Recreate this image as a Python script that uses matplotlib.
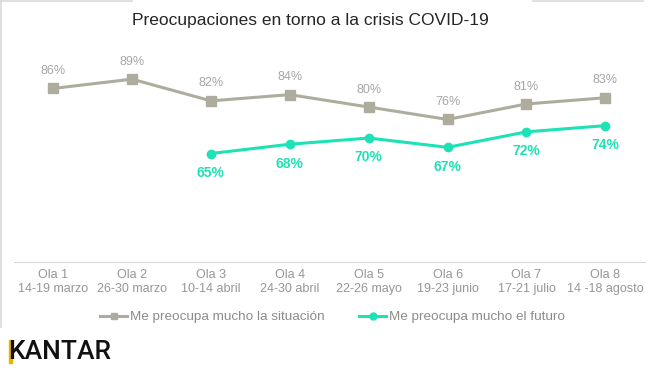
import numpy as np
import matplotlib.pyplot as plt
from matplotlib.lines import Line2D
from matplotlib.patches import Rectangle

plt.rcParams['font.family'] = ['Liberation Sans', 'DejaVu Sans']

olas = ['Ola 1', 'Ola 2', 'Ola 3', 'Ola 4', 'Ola 5', 'Ola 6', 'Ola 7', 'Ola 8']
fechas = ['14-19 marzo', '26-30 marzo', '10-14 abril', '24-30 abril',
          '22-26 mayo', '19-23 junio', '17-21 julio', '14 -18 agosto']
situacion = [86, 89, 82, 84, 80, 76, 81, 83]
futuro = [None, None, 65, 68, 70, 67, 72, 74]

gris = '#AEAD9D'
verde = '#1DE2B5'
texto = '#8C8C8C'

fig = plt.figure(figsize=(6.52, 3.74), dpi=100)
ax = fig.add_axes([0.021, 0.2995, 0.968, 0.58])

x = np.arange(len(olas))
ax.plot(x, situacion, color=gris, lw=2.2, marker='s', ms=6.5, label='Me preocupa mucho la situación')
xf = [i for i in x if futuro[i] is not None]
yf = [futuro[i] for i in xf]
ax.plot(xf, yf, color=verde, lw=2.2, marker='o', ms=6, label='Me preocupa mucho el futuro')

for i, v in enumerate(situacion):
    ax.annotate(f'{v}%', (i, v), xytext=(0, 12.5), textcoords='offset points',
                ha='center', va='center', fontsize=9, color='#A6A6A6')
for i, v in zip(xf, yf):
    ax.annotate(f'{v}%', (i, v), xytext=(0, -14), textcoords='offset points',
                ha='center', va='center', fontsize=10, color=verde, fontweight='bold')

ax.set_xlim(-0.5, len(olas) - 0.5)
ax.set_ylim(30, 100)
ax.set_yticks([])
ax.set_xticks(x)
ax.set_xticklabels([f'{o}\n{f}' for o, f in zip(olas, fechas)], fontsize=9, color='#969696', linespacing=1.25)
ax.tick_params(axis='x', length=0, pad=5)
for s in ['top', 'right', 'left']:
    ax.spines[s].set_visible(False)
ax.spines['bottom'].set_color('#D9D9D9')

h = [Line2D([], [], color=gris, lw=2.2, marker='s', ms=5),
     Line2D([], [], color=verde, lw=2.2, marker='o', ms=5)]
fig.legend(h, ['Me preocupa mucho la situación', 'Me preocupa mucho el futuro'],
           loc='center', bbox_to_anchor=(0.51, 0.152), ncol=2, frameon=False,
           fontsize=9.7, labelcolor=texto, handlelength=2.0, handletextpad=0.2, columnspacing=2.6)

fig.text(0.476, 0.945, 'Preocupaciones en torno a la crisis COVID-19', ha='center', va='center',
         fontsize=12.5, color='#262626')

# marco gris del gráfico
fig.add_artist(Line2D([0, 0.203], [0.997, 0.997], color='#D9D9D9', lw=1.2))
fig.add_artist(Line2D([0.818, 0.986], [0.997, 0.997], color='#D9D9D9', lw=1.2))
fig.add_artist(Line2D([0.001, 0.001], [0.125, 1], color='#D9D9D9', lw=1.2))

# logo
fig.text(0.012, 0.06, 'KANTAR', ha='left', va='center', fontsize=19, fontweight='medium',
         family='Roboto', color='#111111')
fig.add_artist(Rectangle((0.0135, 0.03), 0.0055, 0.06, color='#E8B400', transform=fig.transFigure))

fig.savefig('out.png', dpi=100)
